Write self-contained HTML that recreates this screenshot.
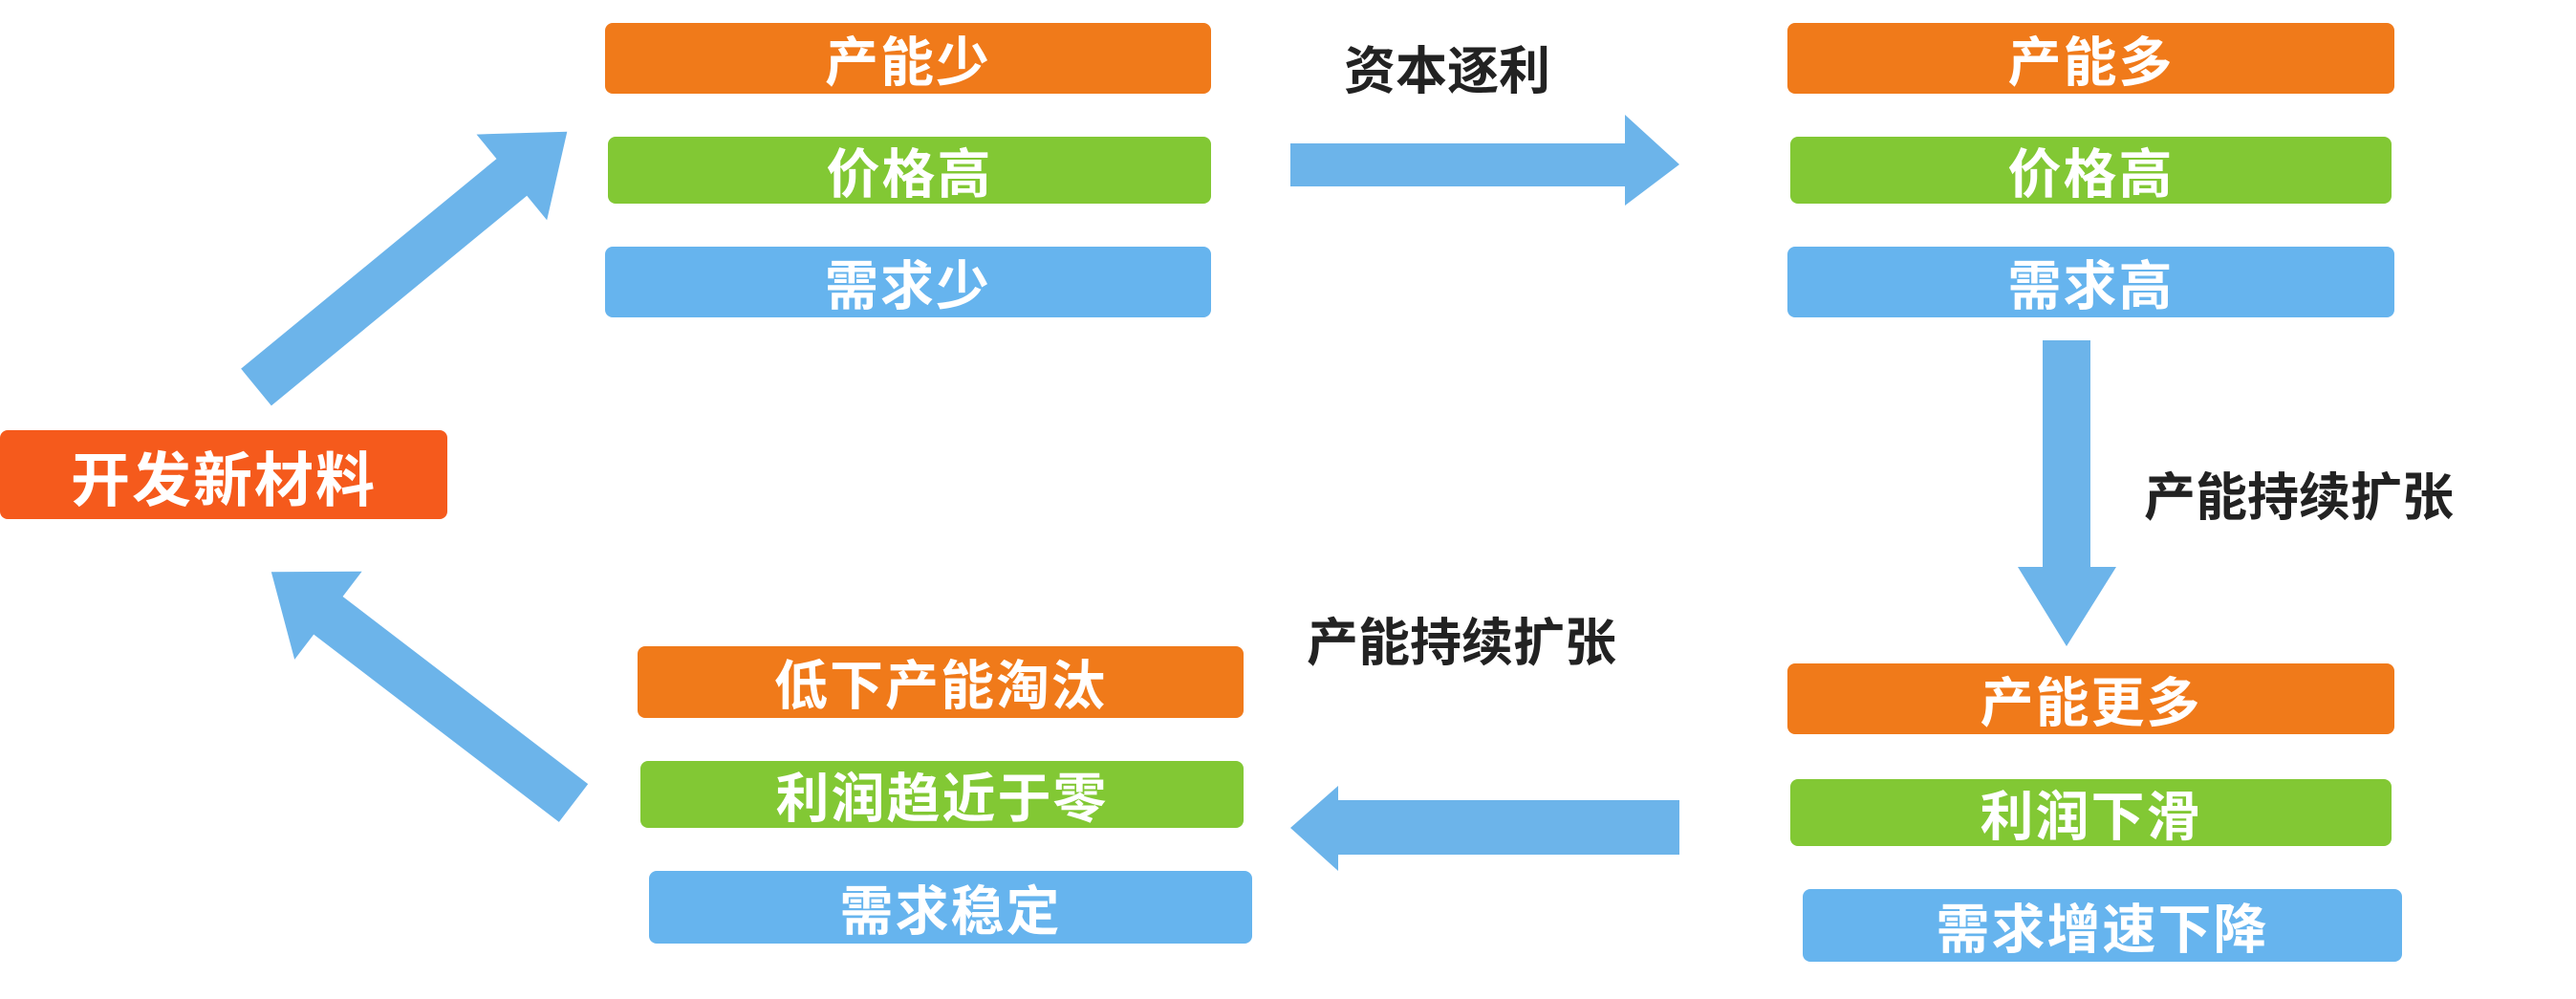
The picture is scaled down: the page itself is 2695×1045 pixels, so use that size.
<!DOCTYPE html>
<html><head><meta charset="utf-8"><style>
body{margin:0;width:2695px;height:1045px;background:#fff;position:relative;overflow:hidden;font-family:"Liberation Sans","Noto Sans CJK SC",sans-serif;}
.b{position:absolute;color:#fff;font-weight:bold;text-align:center;border-radius:8px;font-size:56px;display:flex;align-items:center;justify-content:center;letter-spacing:2px}
.o{background:#f07a1a}.g{background:#82c834}.u{background:#66b4ee}
.l{position:absolute;color:#222;font-weight:bold;font-size:54px;white-space:nowrap}
svg{position:absolute;left:0;top:0}
</style></head><body>
<svg width="2695" height="1045">
<g fill="#6cb4ea">
<polygon points="0,-25 346,-25 346,-58 421,0 346,58 346,25 0,25" transform="translate(268,405) rotate(-39.4)"/>
<polygon points="0,-25 323,-25 323,-58 398,0 323,58 323,25 0,25" transform="translate(600,840) rotate(217.4)"/>
<polygon points="1350,150 1700,150 1700,120 1757,172 1700,215 1700,195 1350,195"/>
<polygon points="2137,356 2187,356 2187,593 2214,593 2162,676 2111,593 2137,593"/>
<polygon points="1757,837 1757,894 1400,894 1400,911 1350,866 1400,822 1400,837"/>
</g>
</svg>
<div class="b o" style="left:633px;top:24px;width:634px;height:74px">产能少</div>
<div class="b g" style="left:636px;top:143px;width:631px;height:70px">价格高</div>
<div class="b u" style="left:633px;top:258px;width:634px;height:74px">需求少</div>
<div class="b" style="left:0;top:450px;width:468px;height:93px;background:#f55a1c;font-size:62px">开发新材料</div>
<div class="b o" style="left:667px;top:676px;width:634px;height:75px">低下产能淘汰</div>
<div class="b g" style="left:670px;top:796px;width:631px;height:70px">利润趋近于零</div>
<div class="b u" style="left:679px;top:911px;width:631px;height:76px">需求稳定</div>
<div class="b o" style="left:1870px;top:24px;width:635px;height:74px">产能多</div>
<div class="b g" style="left:1873px;top:143px;width:629px;height:70px">价格高</div>
<div class="b u" style="left:1870px;top:258px;width:635px;height:74px">需求高</div>
<div class="b o" style="left:1870px;top:694px;width:635px;height:74px">产能更多</div>
<div class="b g" style="left:1873px;top:815px;width:629px;height:70px">利润下滑</div>
<div class="b u" style="left:1886px;top:930px;width:627px;height:76px">需求增速下降</div>
<div class="l" style="left:1406px;top:30px">资本逐利</div>
<div class="l" style="left:2243px;top:476px">产能持续扩张</div>
<div class="l" style="left:1367px;top:628px">产能持续扩张</div>
</body></html>
